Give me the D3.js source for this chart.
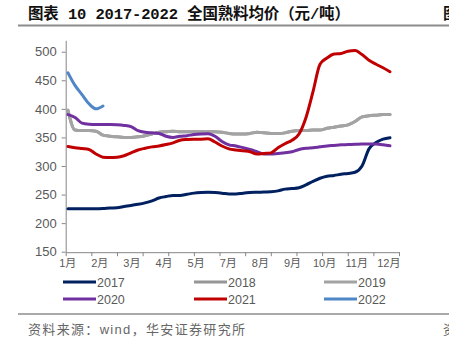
<!DOCTYPE html>
<html><head><meta charset="utf-8">
<script src="https://cdn.jsdelivr.net/npm/d3@7"></script>
<style>
html,body{margin:0;padding:0;background:#fff;}
svg{display:block;}
</style></head>
<body>
<svg id="chart" width="449" height="341"></svg>
<script>
// ---- data ----
const monthLabels = ["1月","2月","3月","4月","5月","7月","8月","9月","10月","11月","12月"];
const yTicks = [150,200,250,300,350,400,450,500];
const years = ["2017","2018","2019","2020","2021","2022"];
const colors = ["#002060","#969696","#a3a3a3","#7030a0","#c00000","#4f86c6"];

const v2017 = [225,225,225,225,225,225.5,226.5,227,229,231,233,235.5,239,244,246.5,248.5,248.5,250.5,252.5,253.5,254,253.5,252.5,251,251,252.5,253.5,254,254.5,255,256.5,259.5,260.5,262,267,273,278.5,282,283.5,285.5,287,289,300,330,341,347,349.5];
const v2018 = [397,363,362,362,361,354,352,351,350,350,351,353,356,359,360,361,360,360,360,360,360,360,359,357,356,356,357,359,358,357,357,358,361,362,362,363,363,366,368,370,372,378,386,388,389,390,390];
const v2019 = [398,363,362,362,361,354,352,351,350,350,351,353,356,359,360,361,360,360,360,360,360,360,359,357,356,356,357,359,358,357,357,358,361,362,362,363,363,366,368,370,372,378,386,388,389,390,390];
const v2020 = [390,385,375,373,372.5,372.5,372.5,372,371,369,362,359,358,357,352,350,352,353,355,356,356.5,352,343,337,335,332,329,325,321,321,322,323,325,329,331,332,333.5,335,336,337,337.5,338,338.5,338.5,338.5,337,335.5];
const v2021 = [334,332,330.5,329,321,315.5,315,315.5,318,323,328,331,333.5,335,337.5,340.5,345,346.5,347,347,347.5,342,335,330,328,326.5,325,321,322,323,332,339,345,356,385,430,478,489,496,497,501,502,495,485,478,472,465];
const v2022 = [463,441,425,409,400,405];
const series = [v2017,v2018,v2019,v2020,v2021,v2022];

// ---- drawing ----
const svg = d3.select("#chart");
const sans = "'Liberation Sans','Noto Sans CJK SC',sans-serif";
const cjk = "'Noto Sans CJK SC',sans-serif";

// title
svg.append("text").attr("x",28).attr("y",19)
  .attr("font-family","'Liberation Mono','Noto Sans CJK SC',monospace")
  .attr("font-weight","700").attr("font-size",15.5).attr("fill","#111")
  .attr("textLength",322).attr("lengthAdjust","spacing")
  .text("图表 10 2017-2022 全国熟料均价（元/吨）");
svg.append("text").attr("x",443).attr("y",19)
  .attr("font-family",cjk).attr("font-weight","700").attr("font-size",15.5).attr("fill","#111")
  .text("图表");
svg.append("line").attr("x1",18).attr("x2",449).attr("y1",25.5).attr("y2",25.5)
  .attr("stroke","#8c8c8c").attr("stroke-width",2);

const y = d3.scaleLinear().domain([150,520]).range([251.7,40.3]);
const x = d3.scaleLinear().domain([0,46]).range([68,390]);
const xt = d3.scaleLinear().domain([0,13]).range([65.7,399]);
const xl = d3.scalePoint().domain(monthLabels).range([67.2,388.3]);

// y axis
const ya = svg.append("g").attr("transform","translate(65.7,0)")
  .call(d3.axisLeft(y).tickValues(yTicks).tickSize(4).tickSizeOuter(0).tickPadding(5));
ya.select(".domain").attr("stroke","#868686");
ya.selectAll(".tick line").attr("stroke","#868686");
ya.selectAll(".tick text").attr("font-family",sans).attr("font-size",13).attr("fill","#595959");

// x axis tick marks
const xa = svg.append("g").attr("transform","translate(0,252.2)")
  .call(d3.axisBottom(xt).tickValues(d3.range(14)).tickSize(4).tickSizeOuter(0).tickFormat(""));
xa.select(".domain").attr("stroke","#868686");
xa.selectAll(".tick line").attr("stroke","#868686");

// x labels
const xla = svg.append("g").attr("transform","translate(0,252.2)")
  .call(d3.axisBottom(xl).tickSize(0).tickPadding(7));
xla.select(".domain").remove();
xla.selectAll(".tick text").attr("font-family",sans).attr("font-size",11).attr("fill","#595959");

// lines
const line = d3.line().x((d,i)=>x(i)).y(d=>y(d)).curve(d3.curveMonotoneX);
series.forEach((s,k)=>{
  svg.append("path").datum(s).attr("d",line).attr("fill","none")
    .attr("stroke",colors[k]).attr("stroke-width",3).attr("stroke-linejoin","round").attr("stroke-linecap","round");
});

// legend
const legX = [63,194,324], legY = [282,299];
years.forEach((yr,k)=>{
  const cx = legX[k%3], cy = legY[Math.floor(k/3)];
  svg.append("line").attr("x1",cx).attr("x2",cx+33).attr("y1",cy).attr("y2",cy)
    .attr("stroke",colors[k]).attr("stroke-width",3);
  svg.append("text").attr("x",cx+34).attr("y",cy+4.5).attr("font-family",sans)
    .attr("font-size",12.5).attr("fill","#595959").text(yr);
});

// bottom rule & source
svg.append("line").attr("x1",18).attr("x2",449).attr("y1",314).attr("y2",314)
  .attr("stroke","#8c8c8c").attr("stroke-width",1.5);
svg.append("text").attr("x",28).attr("y",334).attr("font-family",sans)
  .attr("font-size",13).attr("fill","#666")
  .attr("textLength",217).attr("lengthAdjust","spacing")
  .text("资料来源：wind，华安证券研究所");
svg.append("text").attr("x",443).attr("y",334).attr("font-family",cjk)
  .attr("font-size",13).attr("fill","#666").text("资料");
</script>
</body></html>
